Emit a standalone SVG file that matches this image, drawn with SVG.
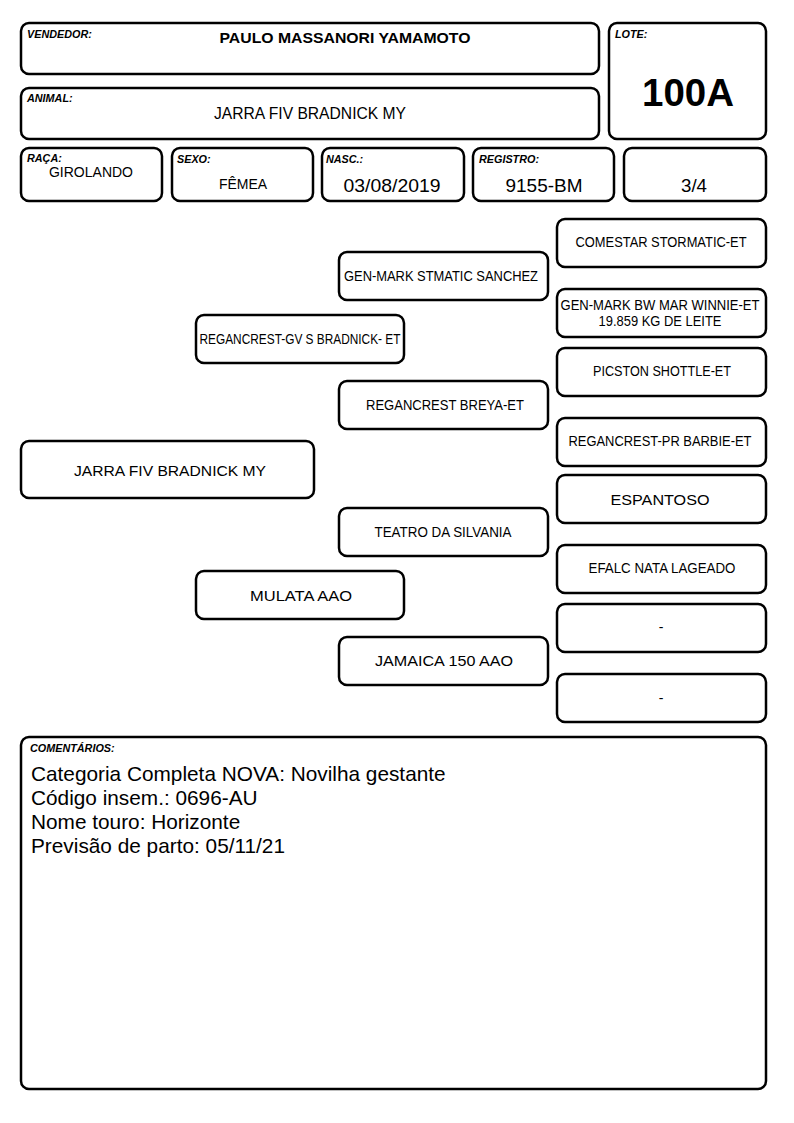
<svg xmlns="http://www.w3.org/2000/svg" width="794" height="1123" viewBox="0 0 794 1123">
<style>
.b{fill:#fff;stroke:#000;stroke-width:2.5}
.lb{font-family:"Liberation Sans",Arial,sans-serif;font-size:10.8px;font-weight:bold;font-style:italic;fill:#000}
.t{font-family:"Liberation Sans",Arial,sans-serif;fill:#000;text-anchor:middle}
.p{font-family:"Liberation Sans",Arial,sans-serif;fill:#000;text-anchor:middle;font-size:14px}
.c{font-family:"Liberation Sans",Arial,sans-serif;fill:#000;font-size:20.8px}
</style>
<rect width="794" height="1123" fill="#fff"/>
<g id="vendedor"><rect class="b" x="21" y="23" width="578" height="51" rx="8"/><text class="lb" x="27" y="38">VENDEDOR:</text><text class="t" x="345" y="43" font-size="15.5" font-weight="bold" textLength="251" lengthAdjust="spacingAndGlyphs">PAULO MASSANORI YAMAMOTO</text></g>
<g id="lote"><rect class="b" x="609" y="23" width="157" height="116" rx="8"/><text class="lb" x="615" y="38">LOTE:</text><text class="t" x="688" y="106" font-size="39" font-weight="bold" textLength="92" lengthAdjust="spacingAndGlyphs">100A</text></g>
<g id="animal"><rect class="b" x="21" y="88" width="578" height="51" rx="8"/><text class="lb" x="27" y="102">ANIMAL:</text><text class="t" x="310" y="119" font-size="15.6" textLength="192" lengthAdjust="spacingAndGlyphs">JARRA FIV BRADNICK MY</text></g>
<g id="raca"><rect class="b" x="21" y="148" width="141" height="53" rx="8"/><text class="lb" x="27" y="162">RAÇA:</text><text class="t" x="91" y="177" font-size="14">GIROLANDO</text></g>
<g id="sexo"><rect class="b" x="172" y="148" width="141" height="53" rx="8"/><text class="lb" x="177" y="163">SEXO:</text><text class="t" x="243" y="189" font-size="14">FÊMEA</text></g>
<g id="nasc"><rect class="b" x="322" y="148" width="142" height="53" rx="8"/><text class="lb" x="326" y="163">NASC.:</text><text class="t" x="392" y="192" font-size="18.5" textLength="97" lengthAdjust="spacingAndGlyphs">03/08/2019</text></g>
<g id="registro"><rect class="b" x="473" y="148" width="141" height="53" rx="8"/><text class="lb" x="479" y="163">REGISTRO:</text><text class="t" x="544" y="192" font-size="18.5" textLength="77" lengthAdjust="spacingAndGlyphs">9155-BM</text></g>
<g id="grau"><rect class="b" x="624" y="148" width="142" height="53" rx="8"/><text class="t" x="694" y="192" font-size="18.5" textLength="26" lengthAdjust="spacingAndGlyphs">3/4</text></g>
<g id="connectors"></g>
<g id="comestar"><rect class="b" x="557" y="219" width="209" height="48" rx="8"/><text class="p" x="661" y="247" textLength="171" lengthAdjust="spacingAndGlyphs">COMESTAR STORMATIC-ET</text></g>
<g id="sanchez"><rect class="b" x="339" y="252" width="209" height="48" rx="8"/><text class="p" x="441" y="281" textLength="194" lengthAdjust="spacingAndGlyphs">GEN-MARK STMATIC SANCHEZ</text></g>
<g id="winnie"><rect class="b" x="557" y="289" width="209" height="48" rx="8"/><text class="p" x="660" y="310" textLength="199" lengthAdjust="spacingAndGlyphs">GEN-MARK BW MAR WINNIE-ET</text><text class="p" x="660" y="325.5" textLength="123" lengthAdjust="spacingAndGlyphs">19.859 KG DE LEITE</text></g>
<g id="bradnick"><rect class="b" x="196" y="315" width="208" height="48" rx="8"/><text class="p" x="300" y="344" textLength="201" lengthAdjust="spacingAndGlyphs">REGANCREST-GV S BRADNICK- ET</text></g>
<g id="shottle"><rect class="b" x="557" y="348" width="209" height="48" rx="8"/><text class="p" x="662" y="376" textLength="138" lengthAdjust="spacingAndGlyphs">PICSTON SHOTTLE-ET</text></g>
<g id="breya"><rect class="b" x="339" y="381" width="209" height="48" rx="8"/><text class="p" x="445" y="410" textLength="158" lengthAdjust="spacingAndGlyphs">REGANCREST BREYA-ET</text></g>
<g id="barbie"><rect class="b" x="557" y="418" width="209" height="48" rx="8"/><text class="p" x="660" y="446" textLength="183" lengthAdjust="spacingAndGlyphs">REGANCREST-PR BARBIE-ET</text></g>
<g id="jarra"><rect class="b" x="21" y="441" width="293" height="57" rx="8"/><text class="p" x="170" y="476" font-size="17.5" textLength="192" lengthAdjust="spacingAndGlyphs">JARRA FIV BRADNICK MY</text></g>
<g id="espantoso"><rect class="b" x="557" y="475" width="209" height="48" rx="8"/><text class="p" x="660" y="505" font-size="17.5" textLength="99" lengthAdjust="spacingAndGlyphs">ESPANTOSO</text></g>
<g id="teatro"><rect class="b" x="339" y="508" width="209" height="48" rx="8"/><text class="p" x="443" y="537" textLength="137" lengthAdjust="spacingAndGlyphs">TEATRO DA SILVANIA</text></g>
<g id="efalc"><rect class="b" x="557" y="545" width="209" height="48" rx="8"/><text class="p" x="662" y="573" textLength="147" lengthAdjust="spacingAndGlyphs">EFALC NATA LAGEADO</text></g>
<g id="mulata"><rect class="b" x="196" y="571" width="208" height="48" rx="8"/><text class="p" x="301" y="601" font-size="17.5" textLength="102" lengthAdjust="spacingAndGlyphs">MULATA AAO</text></g>
<g id="dash1"><rect class="b" x="557" y="604" width="209" height="48" rx="8"/><text class="p" x="661" y="632">-</text></g>
<g id="jamaica"><rect class="b" x="339" y="637" width="209" height="48" rx="8"/><text class="p" x="444" y="666" font-size="16.5" textLength="138" lengthAdjust="spacingAndGlyphs">JAMAICA 150 AAO</text></g>
<g id="dash2"><rect class="b" x="557" y="674" width="209" height="48" rx="8"/><text class="p" x="661" y="703">-</text></g>
<g id="comentarios"><rect class="b" x="21" y="737" width="745" height="352" rx="8"/><text class="lb" x="30" y="752">COMENTÁRIOS:</text>
<text class="c" x="31" y="781">Categoria Completa NOVA: Novilha gestante</text>
<text class="c" x="31" y="805">Código insem.: 0696-AU</text>
<text class="c" x="31" y="829">Nome touro: Horizonte</text>
<text class="c" x="31" y="853">Previsão de parto: 05/11/21</text></g>
</svg>
